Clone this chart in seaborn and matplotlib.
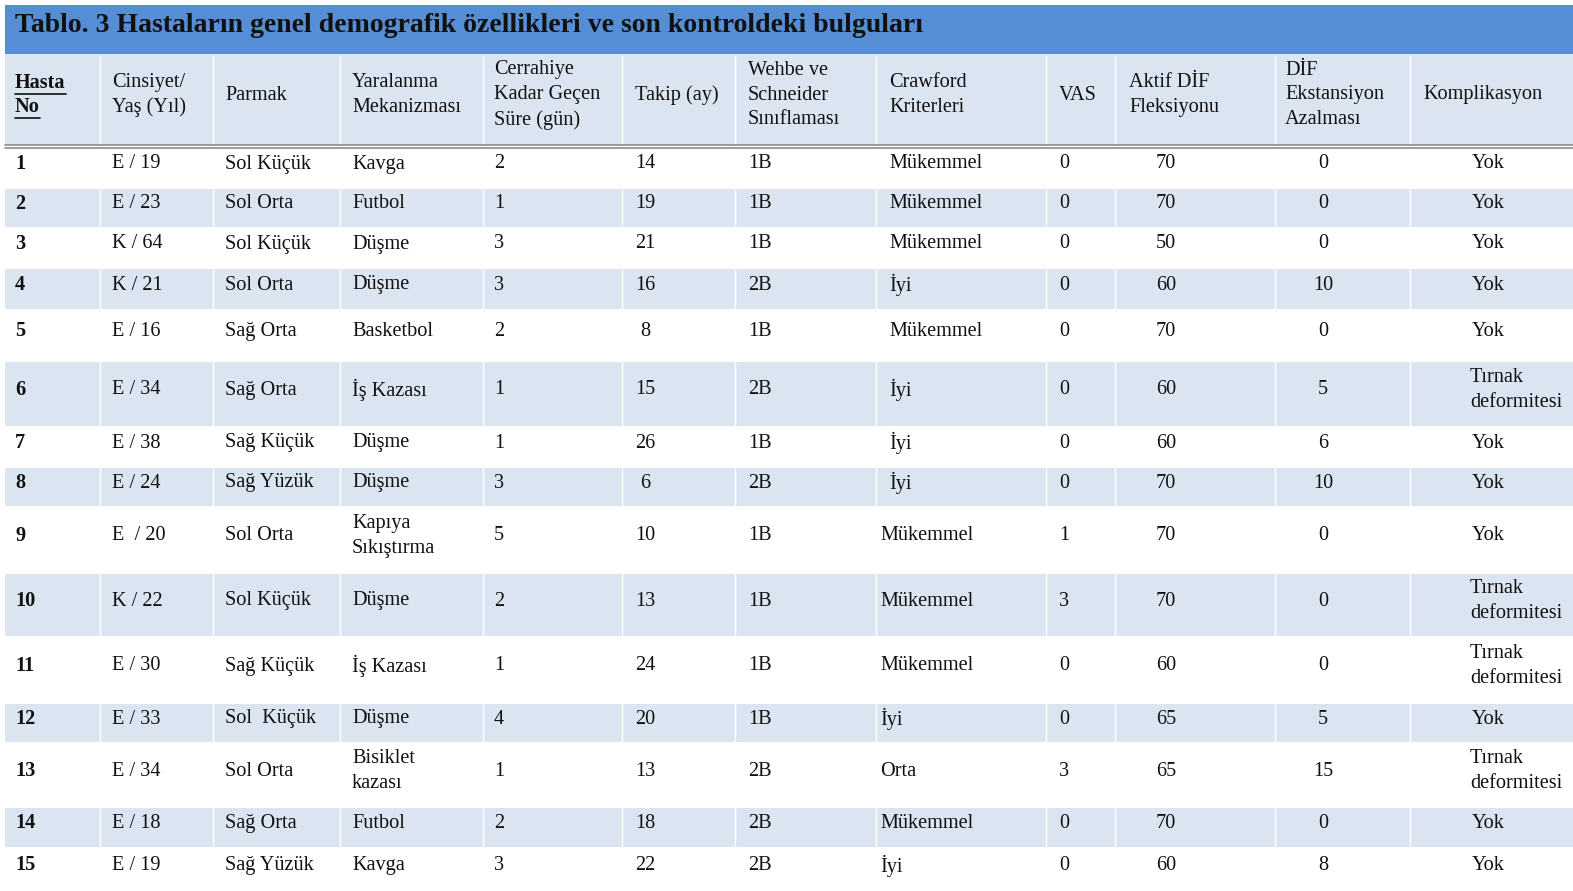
import matplotlib
matplotlib.use("Agg")
import matplotlib.pyplot as plt
import seaborn as sns

# Tablo verileri
hasta_no = [str(i) for i in range(1, 16)]
cinsiyet_yas = ["E / 19", "E / 23", "K / 64", "K / 21", "E / 16", "E / 34", "E / 38", "E / 24",
                "E  / 20", "K / 22", "E / 30", "E / 33", "E / 34", "E / 18", "E / 19"]
parmak = ["Sol Küçük", "Sol Orta", "Sol Küçük", "Sol Orta", "Sağ Orta", "Sağ Orta", "Sağ Küçük",
          "Sağ Yüzük", "Sol Orta", "Sol Küçük", "Sağ Küçük", "Sol  Küçük", "Sol Orta", "Sağ Orta",
          "Sağ Yüzük"]
mekanizma = ["Kavga", "Futbol", "Düşme", "Düşme", "Basketbol", "İş Kazası", "Düşme", "Düşme",
             "Kapıya\nSıkıştırma", "Düşme", "İş Kazası", "Düşme", "Bisiklet\nkazası", "Futbol", "Kavga"]
cerrahiye = [2, 1, 3, 3, 2, 1, 1, 3, 5, 2, 1, 4, 1, 2, 3]
takip = [14, 19, 21, 16, 8, 15, 26, 6, 10, 13, 24, 20, 13, 18, 22]
wehbe = ["1B", "1B", "1B", "2B", "1B", "2B", "1B", "2B", "1B", "1B", "1B", "1B", "2B", "2B", "2B"]
crawford = ["Mükemmel", "Mükemmel", "Mükemmel", "İyi", "Mükemmel", "İyi", "İyi", "İyi", "Mükemmel",
            "Mükemmel", "Mükemmel", "İyi", "Orta", "Mükemmel", "İyi"]
vas = [0, 0, 0, 0, 0, 0, 0, 0, 1, 3, 0, 0, 3, 0, 0]
aktif_dif = [70, 70, 50, 60, 70, 60, 60, 70, 70, 70, 60, 65, 65, 70, 60]
ekstansiyon = [0, 0, 0, 10, 0, 5, 6, 10, 0, 0, 0, 5, 15, 0, 8]
komplikasyon = ["Yok", "Yok", "Yok", "Yok", "Yok", "Tırnak\ndeformitesi", "Yok", "Yok", "Yok",
                "Tırnak\ndeformitesi", "Tırnak\ndeformitesi", "Yok", "Tırnak\ndeformitesi", "Yok", "Yok"]

baslik = "Tablo. 3 Hastaların genel demografik özellikleri ve son kontroldeki bulguları"
basliklar = ["Hasta\nNo", "Cinsiyet/\nYaş (Yıl)", "Parmak", "Yaralanma\nMekanizması",
             "Cerrahiye\nKadar Geçen\nSüre (gün)", "Takip (ay)", "Wehbe ve\nSchneider\nSınıflaması",
             "Crawford\nKriterleri", "VAS", "Aktif DİF\nFleksiyonu", "DİF\nEkstansiyon\nAzalması",
             "Komplikasyon"]

# Yerleşim (piksel)
W, H = 1573, 891
satir_sinir = [148, 188, 228, 268, 310, 361, 427, 467, 507, 573, 637, 703, 743, 807, 848, 891]
kolon_x = [15, 112, 225, 352, 494, 635, 748, 889, 1059, 1129, 1285, 1423]
ayrac_x = [100, 213, 340, 483, 622, 735, 876, 1046, 1115, 1275, 1410]

mavi = "#558ED5"
acik = "#DBE5F1"
yazi = "#111111"

sns.set_theme(style="white")
plt.rcParams["font.family"] = ["Liberation Serif", "DejaVu Serif"]

fig = plt.figure(figsize=(W / 100, H / 100), dpi=100)
ax = fig.add_axes([0, 0, 1, 1])
ax.set_xlim(0, W)
ax.set_ylim(H, 0)
ax.axis("off")

fs = 14.6
ls = 1.42

# Başlık şeridi
ax.axhspan(5, 54, xmin=5 / W, xmax=1, color=mavi, lw=0)
ax.text(15, 25, baslik, fontsize=20, fontweight="bold", va="center", ha="left", color=yazi)

# Başlık satırı
ax.axhspan(54, 145, xmin=5 / W, xmax=1, color=acik, lw=0)
for x in ayrac_x:
    ax.plot([x, x], [56, 144], color="white", lw=1)
ax.plot([5, W], [145, 145], color="#8C8C8C", lw=1.2)
ax.plot([5, W], [148, 148], color="#8C8C8C", lw=1.2)

fig.canvas.draw()
renderer = fig.canvas.get_renderer()
for i, (x, t) in enumerate(zip(kolon_x, basliklar)):
    if i == 0:
        for j, parca in enumerate(t.split("\n")):
            yy = 83 + j * 24
            tx = ax.text(x, yy, parca, fontsize=fs, fontweight="bold", va="center", ha="left", color=yazi)
            bb = tx.get_window_extent(renderer).transformed(ax.transData.inverted())
            ax.plot([bb.x0, bb.x1], [yy + 11, yy + 11], color=yazi, lw=1.2)
        continue
    ax.text(x, 95, t, fontsize=fs, va="center", ha="left", color=yazi, linespacing=ls)

# Veri satırları
for r in range(15):
    y0, y1 = satir_sinir[r], satir_sinir[r + 1]
    yc = (y0 + y1) / 2 - 4
    if r % 2 == 1:
        ax.axhspan(y0 + 1, y1 - 1, xmin=5 / W, xmax=1, color=acik, lw=0)
        for x in ayrac_x:
            ax.plot([x, x], [y0 + 1, y1 - 1], color="white", lw=1)
    kw = dict(fontsize=fs, va="center", color=yazi, linespacing=ls)
    ax.text(15, yc, hasta_no[r], ha="left", fontweight="bold", **kw)
    ax.text(112, yc, cinsiyet_yas[r], ha="left", **kw)
    ax.text(225, yc, parmak[r], ha="left", **kw)
    ax.text(352, yc, mekanizma[r], ha="left", **kw)
    ax.text(494, yc, str(cerrahiye[r]), ha="left", **kw)
    ax.text(645, yc, str(takip[r]), ha="center", **kw)
    ax.text(748, yc, wehbe[r], ha="left", **kw)
    ax.text(889 if r < 8 else 880, yc, crawford[r], ha="left", **kw)
    ax.text(1059, yc, str(vas[r]), ha="left", **kw)
    ax.text(1166, yc, str(aktif_dif[r]), ha="center", **kw)
    ax.text(1323, yc, str(ekstansiyon[r]), ha="center", **kw)
    if "\n" in komplikasyon[r]:
        ax.text(1470, yc, komplikasyon[r], ha="left", **kw)
    else:
        ax.text(1488, yc, komplikasyon[r], ha="center", **kw)

fig.savefig("out.png", dpi=100, facecolor="white")
